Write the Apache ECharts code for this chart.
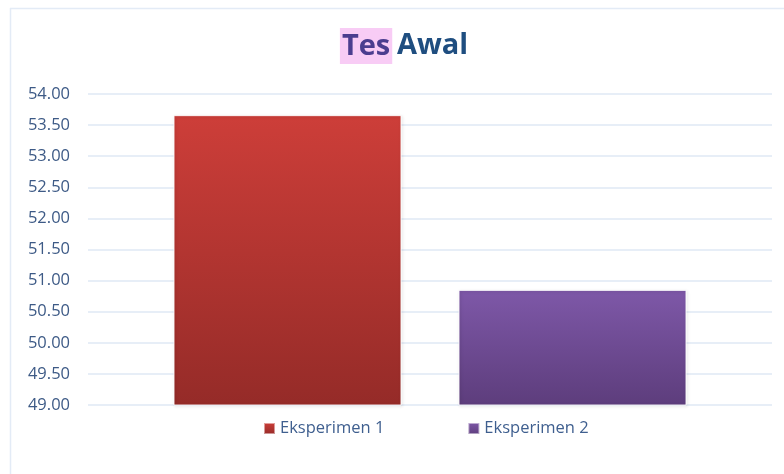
<!DOCTYPE html>
<html>
<head>
<meta charset="utf-8">
<script src="https://cdn.jsdelivr.net/npm/echarts@6/dist/echarts.min.js"></script>
<style>
  html, body { margin: 0; padding: 0; background: #fff; }
  #main { width: 784px; height: 474px; }
</style>
</head>
<body>
<div id="main"></div>
<script>
// data
var categories = ['Tes Awal'];
var seriesNames = ['Eksperimen 1', 'Eksperimen 2'];
var eksperimen1 = [53.66];
var eksperimen2 = [50.85];
var yTicks = { min: 49, max: 54, step: 0.5 };

var myChart = echarts.init(document.getElementById('main'));

function grad(top, bottom) {
    return new echarts.graphic.LinearGradient(0, 0, 0, 1, [
        { offset: 0, color: top },
        { offset: 1, color: bottom }
    ]);
}

var option = {
    backgroundColor: '#fff',
    textStyle: { fontFamily: 'Open Sans' },
    title: {
        text: '{a|Tes} {b|Awal}',
        left: 399,
        textAlign: 'center',
        top: 23,
        textStyle: {
            rich: {
                a: { fontSize: 29, fontWeight: 'bold', color: '#4b3d8f', backgroundColor: '#f8ccf5', padding: [4, 2, 3, 2], fontFamily: 'Open Sans' },
                b: { fontSize: 29, fontWeight: 'bold', color: '#1f4e80', fontFamily: 'Open Sans' }
            }
        }
    },
    graphic: [
        { type: 'line', shape: { x1: 10, y1: 8.5, x2: 784, y2: 8.5 }, style: { stroke: '#e3ebf6', lineWidth: 1.5 } },
        { type: 'line', shape: { x1: 10.5, y1: 8, x2: 10.5, y2: 474 }, style: { stroke: '#e3ebf6', lineWidth: 1.5 } }
    ],
    legend: {
        data: seriesNames,
        top: 415,
        left: 258,
        itemWidth: 11,
        itemHeight: 11,
        itemGap: 83,
        icon: 'rect',
        textStyle: { color: '#3f5f8f', fontSize: 16.5, fontFamily: 'Open Sans' }
    },
    grid: { left: 88, right: 12, top: 94, bottom: 69 },
    xAxis: {
        type: 'category',
        data: categories,
        axisLine: { show: false },
        axisTick: { show: false },
        axisLabel: { show: false }
    },
    yAxis: {
        type: 'value',
        min: yTicks.min,
        max: yTicks.max,
        interval: yTicks.step,
        axisLine: { show: false },
        axisTick: { show: false },
        splitLine: { lineStyle: { color: '#dfe8f5', width: 1.5 } },
        axisLabel: {
            margin: 18,
            color: '#3d5a86',
            fontSize: 16.5,
            fontFamily: 'Open Sans',
            formatter: function (v) { return v.toFixed(2); }
        }
    },
    series: [
        {
            name: seriesNames[0],
            type: 'bar',
            data: eksperimen1,
            barGap: '25%',
            barCategoryGap: '25%',
            itemStyle: {
                color: grad('#cd3e39', '#952b28'),
                borderColor: 'rgba(255,255,255,0.5)',
                borderWidth: 1,
                shadowColor: 'rgba(0,0,0,0.25)',
                shadowBlur: 3,
                shadowOffsetX: 1,
                shadowOffsetY: 1
            }
        },
        {
            name: seriesNames[1],
            type: 'bar',
            data: eksperimen2,
            itemStyle: {
                color: grad('#7e58a8', '#5d3d7c'),
                borderColor: 'rgba(255,255,255,0.5)',
                borderWidth: 1,
                shadowColor: 'rgba(0,0,0,0.25)',
                shadowBlur: 3,
                shadowOffsetX: 1,
                shadowOffsetY: 1
            }
        }
    ]
};
myChart.setOption(option);
</script>
</body>
</html>
